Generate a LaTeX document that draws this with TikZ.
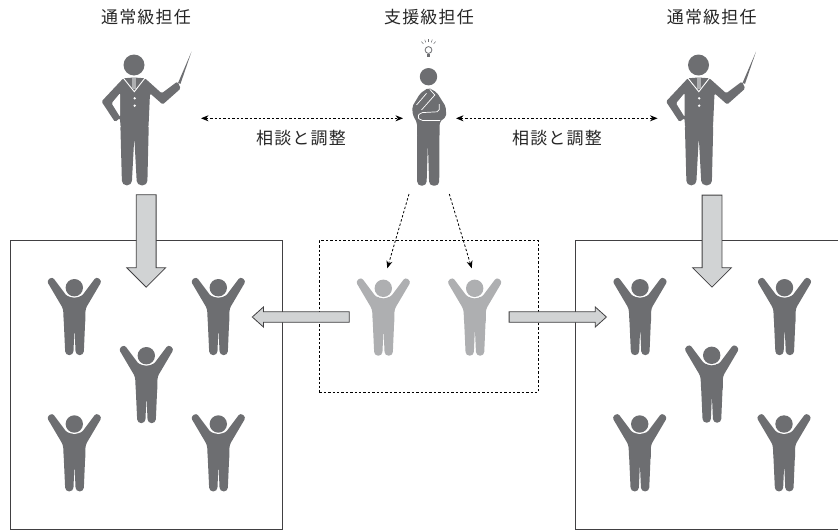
\documentclass[tikz,border=0pt]{standalone}
\usepackage{fontspec}
\setmainfont{Noto Sans CJK JP}
\usetikzlibrary{arrows.meta, shapes.arrows}
\definecolor{figdark}{HTML}{6D6E71}
\definecolor{figlight}{HTML}{AEAFB1}
\definecolor{arrowfill}{HTML}{D1D3D4}
\definecolor{inkline}{HTML}{414042}
\tikzset{
	caption/.style={font=\fontsize{17}{17}\selectfont\addfontfeature{LetterSpace=7}, text=black!85, inner sep=0pt},
	classbox/.style={draw=inkline, line width=0.9pt, inner sep=0pt},
	helpbox/.style={draw=black, line width=0.8pt, dash pattern=on 2.4pt off 2pt, inner sep=0pt},
	talk/.style={<->, >={Stealth[length=7.5pt,width=6pt]}, line width=0.8pt, dash pattern=on 2.4pt off 2pt},
	help/.style={->, >={Stealth[length=7.5pt,width=6pt]}, line width=0.8pt, dash pattern=on 2.4pt off 2pt},
	blockarrow/.style={single arrow, anchor=tail, draw=inkline, fill=arrowfill, line width=0.8pt, inner xsep=0pt, inner ysep=0.25*#1, single arrow head extend=0.25*#1},
	pics/pupil/.style={code={
		\fill[#1, rounded corners=2.8pt] (-27.6,-6.8) -- (-11.2,21) -- (-10.5,36) -- (11,36) -- (11.2,21) -- (27.6,-6.8) -- (22,-11) -- (7,9) -- (-7,9) -- (-22,-11) -- cycle;
		\fill[white] (0,0) circle (10pt);
		\fill[#1] (0,0) circle (8.7pt);
		\fill[#1, rounded corners=3.8pt] (-10.7,30) -- (-9,67.4) -- (-1,67.4) -- (0.2,40) -- (1.4,67.4) -- (9.4,67.4) -- (11,30) -- cycle;
	}},
	pics/pointing/.style={code={
		\fill[figdark] (0,0) circle (10.5pt);
		\fill[figdark, rounded corners=1.5pt] (0,12.5) -- (-10.7,13.3) -- (-32.5,36.5) -- (-19,57) -- (-14,53) -- (-13.5,62) -- (14.5,62) -- (16,28.3) -- (28.7,39.5) -- (46.7,23.5) -- (43.5,16.5) -- (27.7,28.3) -- (11,13.3) -- cycle;
		\fill[figdark] (44,18) -- (57.5,-13.3) -- (46.5,18.8) -- cycle;
		\fill[white, rounded corners=1pt] (-22.3,38.3) -- (-14,28.3) -- (-14,51.7) -- cycle;
		\draw[white, line width=0.9pt] (-10.7,13) -- (0.3,26.7) -- (11,13);
		\fill[figlight] (-1.8,13) rectangle (2.4,24);
		\fill[white] (0.7,33.3) circle (1.3pt) (0.7,40.7) circle (1.3pt);
		\fill[figdark, rounded corners=4.5pt] (-13.7,58) -- (-12,120.3) -- (-2.3,120.3) -- (0.3,72) -- (2.9,120.3) -- (13.3,120.3) -- (14.8,58) -- cycle;
	}},
	pics/thinking/.style={code={
		\fill[figdark] (0,0) circle (8.7pt);
		\fill[figdark, rounded corners=2pt] (0,11) -- (-8.3,16.7) -- (-16.3,30) -- (-15.7,38.3) -- (-11.5,46) -- (-11.4,60) -- (11,60) -- (11.3,45) -- (17.7,40) -- (17.3,30) -- (8.3,15.7) -- cycle;
		\draw[white, line width=0.7pt] (-12,28.3) -- (-2,16.7);
		\draw[white, line width=0.7pt] (-7,33.3) -- (6.3,18.3) -- (1.3,12.7);
		\draw[white, line width=0.7pt, rounded corners=2pt] (10.7,27.3) -- (10.7,35) -- (-8,36) -- (-11.3,40) -- (-8,43.7) -- (11.5,43.7);
		\fill[figdark, rounded corners=4.2pt] (-11.5,55) -- (-11.3,109) -- (-2,109) -- (-0.6,67) -- (0.7,109) -- (10.7,109) -- (11,55) -- cycle;
		\draw[figdark, line width=0.8pt] (0,-26.7) circle (3.4pt);
		\fill[figdark] (-1.6,-22.5) rectangle (1.6,-19.3);
		\foreach \a in {-130,-110,-90,-70,-50}
			\draw[figdark, line width=0.5pt] (0,-26.7) ++(\a:8) -- ++(\a:3);
	}}
}
\begin{document}
\begin{tikzpicture}[x=1pt, y=-1pt]
	\useasboundingbox (0,0) rectangle (838,530);
	% class rooms
	\node[classbox, minimum width=272pt, minimum height=288.5pt] (classL) at (146,384.75) {};
	\node[classbox, minimum width=290pt, minimum height=288.5pt] (classR) at (720.5,384.75) {};
	\node[helpbox, minimum width=219pt, minimum height=151.6pt] (helpR) at (428.8,316.5) {};
	% teachers
	\pic at (134,65) {pointing};
	\pic at (698.5,65) {pointing};
	\pic at (428.5,76.7) {thinking};
	\node[caption] (capL) at (146,17) {通常級担任};
	\node[caption] (capM) at (429,17) {支援級担任};
	\node[caption] (capR) at (711.7,17) {通常級担任};
	% pupils
	\foreach \x/\y in {74.3/287.7, 218.3/287.7, 146.3/355.7, 74.3/424, 218.3/424, 640/287.7, 784.5/287.7, 711.7/355.3, 639.7/424, 784/424}
		\pic at (\x,\y) {pupil=figdark};
	\pic at (383.3,288.3) {pupil=figlight};
	\pic at (474.7,288.3) {pupil=figlight};
	% talk arrows
	\coordinate (talkLa) at (201,118.3);
	\coordinate (talkLb) at (403,118.3);
	\coordinate (talkRa) at (456,118.3);
	\coordinate (talkRb) at (657.5,118.3);
	\draw[talk] (talkLa) -- (talkLb);
	\draw[talk] (talkRa) -- (talkRb);
	\node[caption] (noteL) at (301,138) {相談と調整};
	\node[caption] (noteR) at (557,138) {相談と調整};
	% help arrows
	\coordinate (helpStartA) at (409,194);
	\coordinate (helpEndA) at (387.3,268.3);
	\coordinate (helpStartB) at (449.3,194);
	\coordinate (helpEndB) at (471.7,268.3);
	\draw[help] (helpStartA) -- (helpEndA);
	\draw[help] (helpStartB) -- (helpEndB);
	% block arrows
	\node[blockarrow=38pt, minimum height=92.5pt, rotate=-90] (downL) at (146.2,194.3) {};
	\node[blockarrow=38pt, minimum height=92pt, rotate=-90] (downR) at (712,194.7) {};
	\node[blockarrow=19.4pt, minimum height=97pt, rotate=180, single arrow tip angle=84] (outL) at (349.7,317) {};
	\node[blockarrow=19.4pt, minimum height=97.3pt, single arrow tip angle=84] (outR) at (508.7,317) {};
\end{tikzpicture}
\end{document}
